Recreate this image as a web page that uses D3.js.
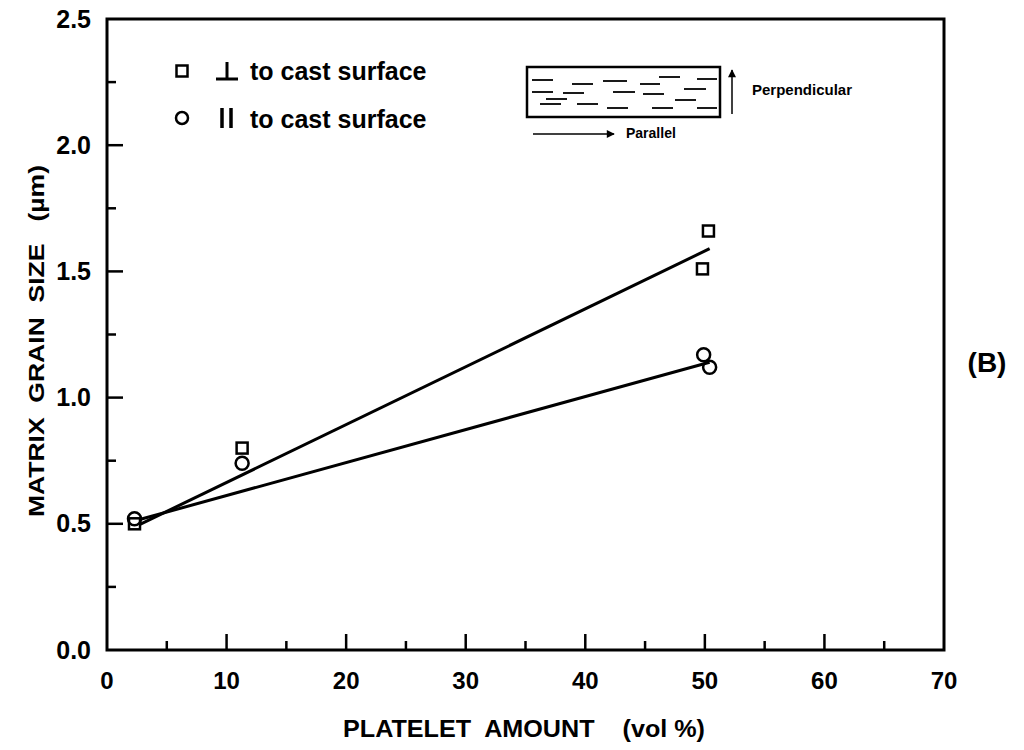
<!DOCTYPE html>
<html>
<head>
<meta charset="utf-8">
<script src="https://cdn.jsdelivr.net/npm/d3@7"></script>
<style>
  body { margin: 0; background: #fff; }
  svg text { font-family: "Liberation Sans", Arial, Helvetica, sans-serif; font-weight: bold; fill: #000; }
</style>
</head>
<body>
<svg id="chart" width="1024" height="750"></svg>
<script>
// measured points, perpendicular (squares) and parallel (circles) to cast surface
const perpX = [2.3, 11.3, 49.8, 50.3];
const perpY = [0.50, 0.80, 1.51, 1.66];
const paraX = [2.3, 11.3, 49.9, 50.4];
const paraY = [0.52, 0.74, 1.17, 1.12];

// fitted lines (end points)
const perpFitX = [2.2, 50.4];
const perpFitY = [0.485, 1.59];
const paraFitX = [2.2, 50.4];
const paraFitY = [0.51, 1.14];

const xTicks = [0, 10, 20, 30, 40, 50, 60, 70];
const yTicks = [0.0, 0.5, 1.0, 1.5, 2.0, 2.5];

// dashes inside the inset sketch: [x1, x2, y] relative to the box
const insetDashes = [
    [5, 26, 13], [45, 66, 17], [76, 100, 14], [113, 133, 17], [132, 153, 10], [170, 190, 12],
    [5, 26, 25], [36, 57, 26], [86, 108, 25], [116, 137, 27], [157, 179, 22], [148, 169, 33],
    [19, 40, 32], [13, 34, 37], [50, 71, 37], [80, 101, 41], [125, 146, 41], [170, 190, 41]
];

const svg = d3.select("#chart");
const x = d3.scaleLinear().domain([0, 70]).range([107, 944]);
const y = d3.scaleLinear().domain([0, 2.5]).range([650, 19]);

// frame (box)
svg.append("rect")
    .attr("x", x(0)).attr("y", y(2.5))
    .attr("width", x(70) - x(0)).attr("height", y(0) - y(2.5))
    .attr("fill", "none").attr("stroke", "#000").attr("stroke-width", 3);

// inward ticks
const xMinor = d3.range(5, 70, 10);
const yMinor = d3.range(0.25, 2.5, 0.5);
svg.append("g").selectAll("line").data(xTicks.slice(1, -1)).enter().append("line")
    .attr("x1", d => x(d)).attr("x2", d => x(d))
    .attr("y1", y(0)).attr("y2", y(0) - 16)
    .attr("stroke", "#000").attr("stroke-width", 2.5);
svg.append("g").selectAll("line").data(xMinor).enter().append("line")
    .attr("x1", d => x(d)).attr("x2", d => x(d))
    .attr("y1", y(0)).attr("y2", y(0) - 9)
    .attr("stroke", "#000").attr("stroke-width", 2.5);
svg.append("g").selectAll("line").data(yTicks.slice(1, -1)).enter().append("line")
    .attr("x1", x(0)).attr("x2", x(0) + 16)
    .attr("y1", d => y(d)).attr("y2", d => y(d))
    .attr("stroke", "#000").attr("stroke-width", 2.5);
svg.append("g").selectAll("line").data(yMinor).enter().append("line")
    .attr("x1", x(0)).attr("x2", x(0) + 9)
    .attr("y1", d => y(d)).attr("y2", d => y(d))
    .attr("stroke", "#000").attr("stroke-width", 2.5);

// tick labels
svg.append("g").selectAll("text").data(xTicks).enter().append("text")
    .attr("x", d => x(d)).attr("y", 689)
    .attr("text-anchor", "middle").attr("font-size", 24)
    .text(d => d);
svg.append("g").selectAll("text").data(yTicks).enter().append("text")
    .attr("x", 91).attr("y", d => y(d) + 8.5)
    .attr("text-anchor", "end").attr("font-size", 25)
    .text(d => d.toFixed(1));

// axis titles
svg.append("text")
    .attr("x", 524).attr("y", 737)
    .attr("text-anchor", "middle").attr("font-size", 23)
    .attr("textLength", 362).attr("lengthAdjust", "spacingAndGlyphs")
    .attr("xml:space", "preserve")
    .text("PLATELET  AMOUNT    (vol %)");
svg.append("text")
    .attr("transform", "translate(44,341) rotate(-90)")
    .attr("text-anchor", "middle").attr("font-size", 22)
    .attr("textLength", 352).attr("lengthAdjust", "spacingAndGlyphs")
    .attr("xml:space", "preserve")
    .text("MATRIX  GRAIN  SIZE   (µm)");

svg.append("text")
    .attr("x", 987).attr("y", 372)
    .attr("text-anchor", "middle").attr("font-size", 28)
    .text("(B)");

// fitted lines
const line = d3.line().x(d => x(d[0])).y(d => y(d[1]));
[[perpFitX, perpFitY], [paraFitX, paraFitY]].forEach(([fx, fy]) => {
    svg.append("path")
        .datum(fx.map((v, i) => [v, fy[i]]))
        .attr("d", line)
        .attr("fill", "none").attr("stroke", "#000").attr("stroke-width", 3);
});

// markers
svg.append("g").selectAll("rect").data(perpX.map((v, i) => [v, perpY[i]])).enter().append("rect")
    .attr("x", d => x(d[0]) - 5.5).attr("y", d => y(d[1]) - 5.5)
    .attr("width", 11).attr("height", 11)
    .attr("fill", "#fff").attr("stroke", "#000").attr("stroke-width", 2.5);
svg.append("g").selectAll("circle").data(paraX.map((v, i) => [v, paraY[i]])).enter().append("circle")
    .attr("cx", d => x(d[0])).attr("cy", d => y(d[1])).attr("r", 6.5)
    .attr("fill", "none").attr("stroke", "#000").attr("stroke-width", 2.5);

// legend
const legend = svg.append("g");
legend.append("rect")
    .attr("x", 176.5).attr("y", 65.5).attr("width", 11).attr("height", 11)
    .attr("fill", "none").attr("stroke", "#000").attr("stroke-width", 2.5);
legend.append("circle")
    .attr("cx", 182).attr("cy", 118).attr("r", 6)
    .attr("fill", "none").attr("stroke", "#000").attr("stroke-width", 2.5);
// perpendicular symbol
legend.append("line").attr("x1", 227).attr("x2", 227).attr("y1", 62).attr("y2", 80)
    .attr("stroke", "#000").attr("stroke-width", 3);
legend.append("line").attr("x1", 216).attr("x2", 238).attr("y1", 79).attr("y2", 79)
    .attr("stroke", "#000").attr("stroke-width", 3);
// parallel symbol
legend.append("line").attr("x1", 222).attr("x2", 222).attr("y1", 108).attr("y2", 128)
    .attr("stroke", "#000").attr("stroke-width", 3.5);
legend.append("line").attr("x1", 231).attr("x2", 231).attr("y1", 108).attr("y2", 128)
    .attr("stroke", "#000").attr("stroke-width", 3.5);
legend.append("text").attr("x", 250).attr("y", 80).attr("font-size", 25).text("to cast surface");
legend.append("text").attr("x", 250).attr("y", 128).attr("font-size", 25).text("to cast surface");

// inset sketch
const inset = svg.append("g").attr("transform", "translate(527,67)");
inset.append("rect").attr("width", 193).attr("height", 50)
    .attr("fill", "none").attr("stroke", "#000").attr("stroke-width", 2.5);
inset.selectAll("line.dash").data(insetDashes).enter().append("line")
    .attr("class", "dash")
    .attr("x1", d => d[0]).attr("x2", d => d[1])
    .attr("y1", d => d[2]).attr("y2", d => d[2])
    .attr("stroke", "#000").attr("stroke-width", 1.8);

const defs = svg.append("defs");
defs.append("marker").attr("id", "arrow")
    .attr("viewBox", "0 0 10 10").attr("refX", 9).attr("refY", 5)
    .attr("markerWidth", 12).attr("markerHeight", 8).attr("markerUnits", "userSpaceOnUse")
    .attr("orient", "auto")
    .append("path").attr("d", "M0,0 L10,5 L0,10 Z").attr("fill", "#000");

svg.append("line").attr("x1", 533).attr("x2", 614).attr("y1", 134).attr("y2", 134)
    .attr("stroke", "#000").attr("stroke-width", 1.5).attr("marker-end", "url(#arrow)");
svg.append("line").attr("x1", 732).attr("x2", 732).attr("y1", 114).attr("y2", 70)
    .attr("stroke", "#000").attr("stroke-width", 1.5).attr("marker-end", "url(#arrow)");
svg.append("text").attr("x", 626).attr("y", 138).attr("font-size", 14).text("Parallel");
svg.append("text").attr("x", 752).attr("y", 95).attr("font-size", 15).text("Perpendicular");
</script>
</body>
</html>
